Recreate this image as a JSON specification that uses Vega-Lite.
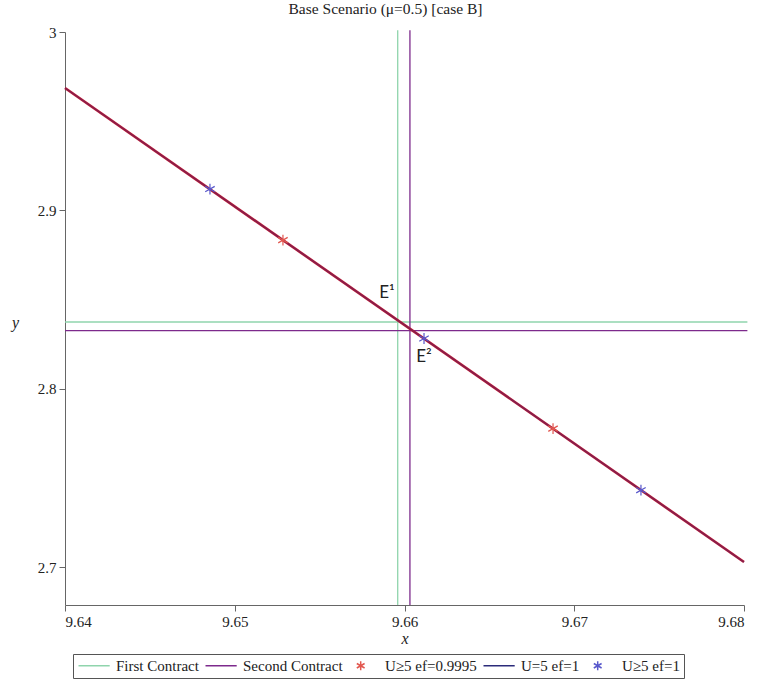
{
  "$schema": "https://vega.github.io/schema/vega-lite/v6.json",
  "width": 679,
  "height": 573,
  "autosize": "none",
  "padding": {"left": 65, "top": 32, "right": 15, "bottom": 74},
  "background": "white",
  "title": {
    "text": "Base Scenario (μ=0.5) [case B]",
    "font": "Liberation Serif",
    "fontSize": 15.5,
    "fontWeight": "normal",
    "color": "#222",
    "anchor": "middle",
    "dx": -19,
    "offset": 8
  },
  "datasets": {
    "contracts": [
      {"series": "First Contract", "seg": "v1", "x": 9.6596, "y": 2.6787},
      {"series": "First Contract", "seg": "v1", "x": 9.6596, "y": 3.001},
      {"series": "First Contract", "seg": "h1", "x": 9.64, "y": 2.8374},
      {"series": "First Contract", "seg": "h1", "x": 9.6802, "y": 2.8374},
      {"series": "Second Contract", "seg": "v2", "x": 9.66032, "y": 2.6787},
      {"series": "Second Contract", "seg": "v2", "x": 9.66032, "y": 3.001},
      {"series": "Second Contract", "seg": "h2", "x": 9.64, "y": 2.8325},
      {"series": "Second Contract", "seg": "h2", "x": 9.6802, "y": 2.8325}
    ],
    "curve": [
      {"series": "U=5 ef=1", "x": 9.64, "y": 2.9686},
      {"series": "U=5 ef=1", "x": 9.68, "y": 2.7028}
    ],
    "stars": [
      {"series": "U≥5 ef=0.9995", "x": 9.65284, "y": 2.8833},
      {"series": "U≥5 ef=0.9995", "x": 9.66875, "y": 2.7776},
      {"series": "U≥5 ef=1", "x": 9.64854, "y": 2.9119},
      {"series": "U≥5 ef=1", "x": 9.66115, "y": 2.8281},
      {"series": "U≥5 ef=1", "x": 9.67393, "y": 2.7431}
    ],
    "labels": [
      {"label": "E¹", "x": 9.65897, "y": 2.8536},
      {"label": "E²", "x": 9.66115, "y": 2.8177}
    ]
  },
  "encoding": {
    "x": {
      "field": "x",
      "type": "quantitative",
      "scale": {"domain": [9.64, 9.68], "nice": false, "zero": false},
      "axis": {
        "title": "x",
        "values": [9.64, 9.65, 9.66, 9.67, 9.68],
        "format": ".2f",
        "labelFont": "Liberation Serif",
        "titlePadding": 1
      }
    },
    "y": {
      "field": "y",
      "type": "quantitative",
      "scale": {"domain": [2.6787, 3], "nice": false, "zero": false},
      "axis": {
        "title": "y",
        "values": [2.7, 2.8, 2.9, 3],
        "format": ".1~f",
        "labelFont": "Liberation Serif",
        "titleAngle": 0,
        "titleAlign": "center",
        "titleBaseline": "middle",
        "titleX": -50,
        "titleY": 290
      }
    }
  },
  "layer": [
    {
      "data": {"name": "contracts"},
      "mark": {"type": "line", "strokeWidth": 1.3, "clip": false},
      "encoding": {
        "color": {
          "field": "series",
          "type": "nominal",
          "scale": {
            "domain": ["First Contract", "Second Contract", "U≥5 ef=0.9995", "U=5 ef=1", "U≥5 ef=1"],
            "range": ["#8fd4ac", "#7d2a8c", "#e2574f", "#2b2b7a", "#5858cc"]
          }
        },
        "detail": {"field": "seg"}
      }
    },
    {
      "data": {"name": "curve"},
      "mark": {"type": "line", "strokeWidth": 2.6, "color": "#c01830"},
      "encoding": {}
    },
    {
      "data": {"name": "curve"},
      "mark": {"type": "line", "strokeWidth": 1.5, "opacity": 0.4},
      "encoding": {
        "color": {"field": "series", "type": "nominal"}
      }
    },
    {
      "data": {"name": "stars"},
      "mark": {"type": "point", "filled": false, "strokeWidth": 1.2, "size": 213, "opacity": 1},
      "encoding": {
        "color": {"field": "series", "type": "nominal"},
        "xOffset": {"value": -8.76},
        "shape": {
          "field": "series",
          "type": "nominal",
          "scale": {
            "domain": ["First Contract", "Second Contract", "U≥5 ef=0.9995", "U=5 ef=1", "U≥5 ef=1"],
            "range": [
              "M-1,0L4.2,0",
              "M-1,0L4.2,0",
              "M1.2,-0.75L1.2,0.75M0.55,-0.375L1.85,0.375M0.55,0.375L1.85,-0.375",
              "M-1,0L4.2,0",
              "M1.2,-0.75L1.2,0.75M0.55,-0.375L1.85,0.375M0.55,0.375L1.85,-0.375"
            ]
          }
        }
      }
    },
    {
      "data": {"name": "labels"},
      "mark": {"type": "text", "font": "Lato", "fontSize": 17, "color": "#222", "align": "center", "baseline": "middle"},
      "encoding": {
        "text": {"field": "label"}
      }
    }
  ],
  "config": {
    "view": {"stroke": null},
    "font": "Liberation Serif",
    "axis": {
      "grid": false,
      "domainColor": "#666",
      "tickColor": "#666",
      "tickSize": 6,
      "labelPadding": 3,
      "labelFont": "Liberation Serif",
      "labelFontSize": 15,
      "labelColor": "#222",
      "titleFont": "Liberation Serif",
      "titleFontStyle": "italic",
      "titleFontWeight": "normal",
      "titleFontSize": 16,
      "titleColor": "#222"
    },
    "legend": {
      "orient": "none",
      "legendX": 8,
      "legendY": 622,
      "direction": "horizontal",
      "columns": 5,
      "strokeColor": "#555",
      "padding": 4,
      "symbolSize": 144,
      "symbolStrokeWidth": 1.5,
      "symbolOpacity": 1,
      "labelFont": "Liberation Serif",
      "labelFontSize": 15,
      "labelColor": "#222",
      "labelOffset": 24,
      "columnPadding": 3,
      "title": null
    }
  }
}
